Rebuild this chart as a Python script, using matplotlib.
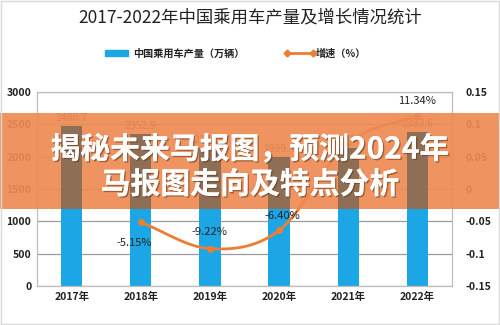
import matplotlib.pyplot as plt
import matplotlib.patheffects as pe
from matplotlib.patches import Rectangle
import numpy as np

plt.rcParams['font.family'] = ['Noto Sans CJK SC', 'DejaVu Sans']

years = ['2017年', '2018年', '2019年', '2020年', '2021年', '2022年']
output = [2480.7, 2352.9, 2136.0, 1999.4, 2140.8, 2383.6]
growth_years = [1, 2, 3, 4, 5]
growth = [-0.0515, -0.0922, -0.0640, 0.0707, 0.1134]
growth_labels = ['-5.15%', '-9.22%', '-6.40%', '7.07%', '11.34%']
left_ticks = [0, 500, 1000, 1500, 2000, 2500, 3000]
right_ticks = [-0.15, -0.1, -0.05, 0, 0.05, 0.1, 0.15]
right_labels = ['-0.15', '-0.1', '-0.05', '0', '0.05', '0.1', '0.15']

blue = '#1DA6E6'
orange = '#ED7D31'
band_col = '#EE8A52'
brown = '#8E6F56'

fig = plt.figure(figsize=(5, 3.25), dpi=100)
pos = [0.074, 0.12, 0.83, 0.597]
ax = fig.add_axes(pos)
x = np.arange(len(years))

ax.bar(x, output, width=0.31, color=blue, zorder=2)
ax.set_ylim(0, 3000)
ax.set_xlim(-0.5, len(years) - 0.5)
ax.set_yticks(left_ticks)
ax.set_yticklabels([str(t) for t in left_ticks], fontsize=7.5, fontweight='bold', color='#222222')
ax.set_xticks(x)
ax.set_xticklabels(years, fontsize=7.5, fontweight='bold', color='#222222')
ax.tick_params(length=0, pad=4)
ax.yaxis.grid(True, color='#9A9A9A', linewidth=0.9, zorder=0)
for s in ax.spines.values():
    s.set_color('#BDBDBD')
    s.set_linewidth(0.9)
for xi, v in zip(x, output):
    ax.text(xi, v + 40, f'{v:.1f}', ha='center', va='bottom', fontsize=7.5, color='#333333')

ax2 = ax.twinx()
ax2.set_ylim(-0.15, 0.15)
ax2.set_yticks(right_ticks)
ax2.set_yticklabels(right_labels, fontsize=7.5, fontweight='bold', color='#222222')
ax2.tick_params(length=0, pad=10)
for s in ax2.spines.values():
    s.set_visible(False)

# smooth curve through the growth points (cubic Hermite, Catmull-Rom tangents)
gx = np.array(growth_years, dtype=float)
gy = np.array(growth)
m = np.gradient(gy, gx)
xs, ys = [], []
for i in range(len(gx) - 1):
    t = np.linspace(0, 1, 30)
    h = gx[i + 1] - gx[i]
    h00 = 2 * t**3 - 3 * t**2 + 1
    h10 = t**3 - 2 * t**2 + t
    h01 = -2 * t**3 + 3 * t**2
    h11 = t**3 - t**2
    xs.extend(gx[i] + t * h)
    ys.extend(h00 * gy[i] + h10 * h * m[i] + h01 * gy[i + 1] + h11 * h * m[i + 1])
ax2.plot(xs, ys, color=orange, linewidth=2, zorder=3)
ax2.plot(gx, gy, 'o', color=orange, markersize=4, zorder=4)
offsets = [(-0.1, -0.032), (0, 0.025), (0.05, 0.022), (0, -0.019), (0, 0.023)]
for xi, yi, lab, (dx, dy) in zip(gx, gy, growth_labels, offsets):
    ax2.text(xi + dx, yi + dy, lab, ha='center', va='center', fontsize=8, color='#222222')

fig.text(0.5, 0.946, '2017-2022年中国乘用车产量及增长情况统计', ha='center', va='center',
         fontsize=12.5, color='#222222')

# legend
fig.patches.append(Rectangle((0.21, 0.828), 0.046, 0.017, transform=fig.transFigure,
                             color=blue, figure=fig))
fig.text(0.266, 0.836, '中国乘用车产量（万辆）', ha='left', va='center', fontsize=7.3,
         fontweight='bold', color='#222222')
fig.lines.append(plt.Line2D([0.574, 0.626], [0.836, 0.836], transform=fig.transFigure,
                            color=orange, linewidth=2, marker='D', markersize=3.5,
                            markevery=[0, 1], figure=fig))
fig.text(0.632, 0.836, '增速（%）', ha='left', va='center', fontsize=7.3,
         fontweight='bold', color='#222222')

# orange banner across the chart
band_y0, band_y1 = (325 - 209) / 325, (325 - 113) / 325
band = Rectangle((0, band_y0), 1, band_y1 - band_y0, transform=fig.transFigure,
                 facecolor=band_col, alpha=0.92, edgecolor='none', zorder=1, figure=fig)
fig.patches.append(band)

ax3 = fig.add_axes(pos, zorder=5)
ax3.set_xlim(ax.get_xlim())
ax3.set_ylim(ax.get_ylim())
ax3.axis('off')
clip = Rectangle((0, band_y0), 1, band_y1 - band_y0, transform=fig.transFigure)
for b in ax3.bar(x, output, width=0.31, color=brown):
    b.set_clip_path(clip)

fx = [pe.withSimplePatchShadow(offset=(1, -1), shadow_rgbFace='#6b3a1a', alpha=0.6), pe.Normal()]
fig.text(0.5, 0.54, '揭秘未来马报图，预测2024年', ha='center', va='center', fontsize=21.5,
         fontweight='heavy', color='white', path_effects=fx, zorder=10)
fig.text(0.5, 0.432, '马报图走向及特点分析', ha='center', va='center', fontsize=21.5,
         fontweight='heavy', color='white', path_effects=fx, zorder=10)

fig.patches.append(Rectangle((0.002, 0.003), 0.996, 0.994, transform=fig.transFigure,
                             fill=False, edgecolor='#D9D9D9', linewidth=1, figure=fig))

fig.savefig('out.png', dpi=100, facecolor='white')
